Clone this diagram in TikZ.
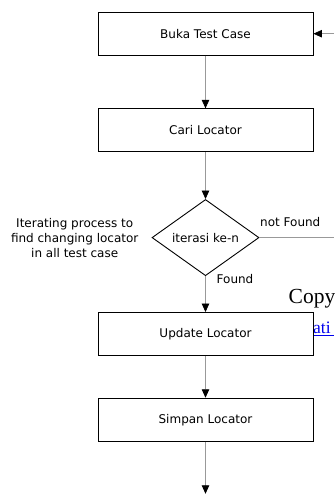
\documentclass[tikz,border=0pt]{standalone}
\usepackage{fontspec}
\setmainfont{DejaVu Sans}
\newfontfamily\serifweb{Liberation Serif}
\usetikzlibrary{shapes.geometric,arrows.meta}

\tikzset{
  flowtext/.style={font=\fontsize{12}{15}\selectfont, text=black},
  procbox/.style={flowtext, draw=black, line width=0.9pt, fill=white,
    minimum width=215pt, minimum height=43pt, inner sep=0pt},
  decision/.style={flowtext, diamond, draw=black, line width=0.9pt, fill=white,
    minimum width=107pt, minimum height=64pt, inner sep=0pt},
  note/.style={flowtext, inner sep=0pt, align=center},
  flow/.style={draw=black!40, line width=0.8pt,
    -{Triangle[length=8.5pt,width=7.5pt,color=black]}},
  plain/.style={draw=black!40, line width=0.8pt},
}

\begin{document}
\begin{tikzpicture}[x=1pt,y=-1pt]
  \useasboundingbox (0,0) rectangle (334,494);
  \clip (0,0) rectangle (334,494);

  % stray web-page text behind the flow chart
  \node[anchor=base west, inner sep=0pt, font=\serifweb\fontsize{21.5}{24}\selectfont]
    (copy) at (288.5,303) {Copy};
  \node[anchor=base west, inner sep=0pt, text={rgb,255:red,0;green,0;blue,238},
    font=\serifweb\fontsize{17.5}{20}\selectfont] (ati) at (313,333) {ati};
  \draw[draw={rgb,255:red,0;green,0;blue,238}, line width=1.3pt]
    (ati.base west) ++(0,2.5) -- (334,335.5);

  % process steps
  \node[procbox] (buka)   at (205.5,33.7)  {Buka Test Case};
  \node[procbox] (cari)   at (205.5,130.3) {Cari Locator};
  \node[decision] (iter)  at (205.5,237.6) {iterasi ke-n};
  \node[procbox] (update) at (205.5,334)   {Update Locator};
  \node[procbox] (simpan) at (205.5,419.7) {Simpan Locator};

  % side labels
  \node[note] (loopnote) at (74.7,237.8)
    {Iterating process to\\find changing locator\\in all test case};
  \node[flowtext, anchor=west, inner sep=0pt] (nf) at (260,222.5) {not Found};
  \node[flowtext, anchor=west, inner sep=0pt] (fd) at (216.5,279.5) {Found};

  % loose ends at the right and bottom edges
  \coordinate (backin)  at (334,33.7);
  \coordinate (backout) at (334,237.6);
  \coordinate (endpt)   at (205.5,493.8);

  % connectors
  \draw[flow] (buka) -- (cari);
  \draw[flow] (cari) -- (iter);
  \draw[flow] (iter) -- (update);
  \draw[flow] (update) -- (simpan);
  \draw[flow] (simpan) -- (endpt);
  \draw[plain] (iter.east) -- (backout);
  \draw[flow] (backin) -- (buka.east);
\end{tikzpicture}
\end{document}
